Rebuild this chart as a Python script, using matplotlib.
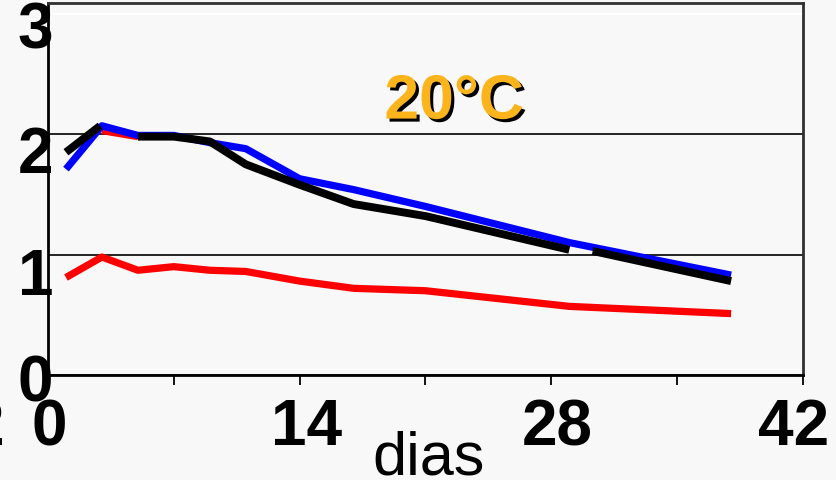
import numpy as np
import matplotlib
matplotlib.use("Agg")
import matplotlib.pyplot as plt
import matplotlib.patheffects as pe
from matplotlib.transforms import offset_copy, blended_transform_factory

plt.rcParams['font.family'] = ['Liberation Sans', 'DejaVu Sans']

# days of storage and the measured values for each series
dias_red = [1, 3, 5, 7, 9, 11, 14, 17, 21, 29, 38]
val_red = [0.81, 0.98, 0.87, 0.90, 0.87, 0.86, 0.78, 0.72, 0.70, 0.57, 0.51]

dias_red2 = [3, 5]
val_red2 = [2.03, 1.98]

dias_blue = [1, 3, 5, 7, 9, 11, 14, 17, 21, 29, 38]
val_blue = [1.71, 2.07, 1.99, 1.99, 1.93, 1.88, 1.63, 1.54, 1.40, 1.10, 0.83]

# black series has two breaks (nan)
dias_black = [1, 2.9, np.nan, 5, 7, 9, 11, 14, 17, 21, 29, np.nan, 30.3, 38]
val_black = [1.85, 2.07, np.nan, 1.98, 1.98, 1.94, 1.75, 1.58, 1.42, 1.32, 1.04, np.nan, 1.03, 0.78]

xtick_vals = [0, 14, 28, 42]
ytick_vals = [0, 1, 2, 3]
titulo = '20°C'

bg = '#f8f8f8'
fig = plt.figure(figsize=(8.36, 4.81), dpi=100, facecolor=bg)
ax = fig.add_axes([48 / 836, 1 - 376 / 481, 755 / 836, 372 / 481])
ax.set_facecolor(bg)

lw = 5.2
ax.plot(dias_red, val_red, color='#ff0000', lw=lw, solid_capstyle='butt', zorder=3)
ax.plot(dias_red2, val_red2, color='#ff0000', lw=lw, solid_capstyle='butt', zorder=3)
ax.plot(dias_blue, val_blue, color='#0000ff', lw=lw, solid_capstyle='butt', zorder=4)
ax.plot(dias_black, val_black, color='black', lw=5.7, solid_capstyle='butt', zorder=5)

ax.set_xlim(0, 42)
ax.set_ylim(0, 3.09)

ax.set_xticks(range(0, 43, 7))
ax.set_xticklabels([])
ax.set_yticks(ytick_vals)
ax.set_yticklabels([])
ax.tick_params(axis='x', direction='out', length=7, width=1.3, color='black')
ax.tick_params(axis='y', length=0)

ax.grid(axis='y', color='black', lw=1.2, zorder=1)
ax.yaxis.get_gridlines()[3].set_color('white')
ax.yaxis.get_gridlines()[3].set_linewidth(1.6)

for side in ['left', 'bottom']:
    ax.spines[side].set_linewidth(2.0)
    ax.spines[side].set_color('black')
for side in ['top', 'right']:
    ax.spines[side].set_linewidth(2.0)
    ax.spines[side].set_color('#303030')

tick_font = dict(fontsize=46, fontweight='bold', color='black')

# y tick labels, shifted a bit below their gridlines
ytrans = blended_transform_factory(ax.transAxes, ax.transData)
y_shift = [-25, -39, -38, -34]
for v, dy in zip(ytick_vals, y_shift):
    tr = offset_copy(ytrans, fig=fig, x=5, y=dy, units='dots')
    ax.text(0, v, str(v), transform=tr, ha='right', va='baseline',
            clip_on=False, **tick_font)

# x tick labels
xtrans = blended_transform_factory(ax.transData, ax.transAxes)
x_shift = [1, 7, 6, -9]
for v, dx in zip(xtick_vals, x_shift):
    tr = offset_copy(xtrans, fig=fig, x=dx, y=-69, units='dots')
    ax.text(v, 0, str(v), transform=tr, ha='center', va='baseline',
            clip_on=False, **tick_font)

# leftover digit at the far left edge
fig.text(4 / 836, 36 / 481, '2', ha='right', va='baseline', **tick_font)

fig.text(429 / 836, 6 / 481, 'dias', ha='center', va='baseline',
         fontsize=44, color='black')

ax.text(22.6, 2.13, titulo, ha='center', va='baseline', fontsize=45,
        fontweight='bold', color='#fbb41c', zorder=6,
        path_effects=[pe.withSimplePatchShadow(offset=(2.2, -2.2),
                                               shadow_rgbFace='black', alpha=1.0)])

fig.savefig('out.png', dpi=100, facecolor=bg)
